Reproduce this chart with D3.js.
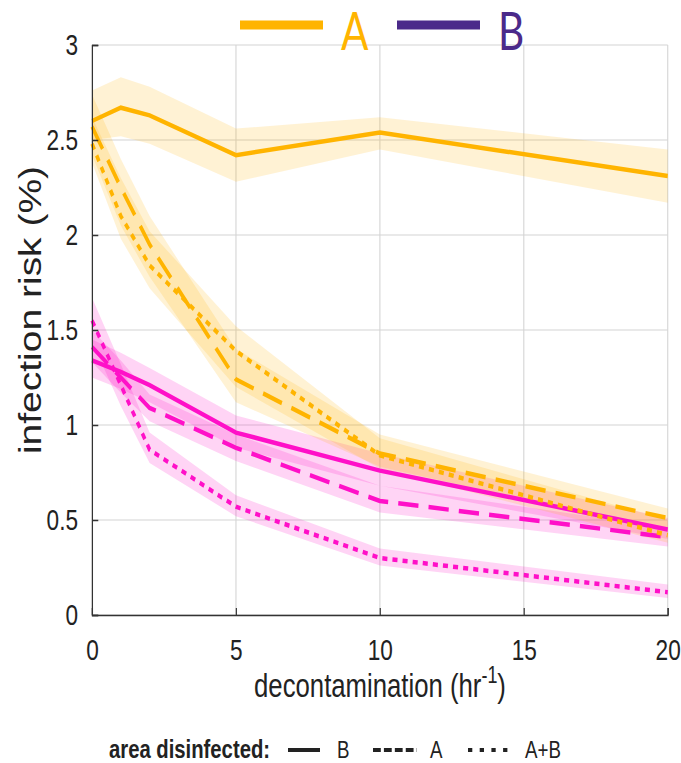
<!DOCTYPE html>
<html>
<head>
<meta charset="utf-8">
<script src="https://cdn.jsdelivr.net/npm/d3@7"></script>
<style>
  body { margin: 0; background: #fff; }
  svg { display: block; font-family: 'Liberation Sans', Arial, sans-serif; }
</style>
</head>
<body>
<div id="chart"></div>
<script>
// decontamination rates the model was run at
const rates = [0, 1, 2, 5, 10, 20];

// room A, mean and band (lo/hi) for each disinfected area
const aB = [2.60, 2.67, 2.63, 2.42, 2.54, 2.31];
const aBLo = [2.50, 2.52, 2.48, 2.28, 2.45, 2.17];
const aBHi = [2.76, 2.83, 2.78, 2.56, 2.62, 2.45];
const aA = [2.57, 2.25, 1.95, 1.24, 0.85, 0.51];
const aALo = [2.42, 2.05, 1.78, 1.12, 0.78, 0.44];
const aAHi = [2.74, 2.40, 2.10, 1.40, 0.95, 0.56];
const aAB = [2.48, 2.10, 1.84, 1.39, 0.84, 0.42];
const aABLo = [2.38, 1.98, 1.72, 1.20, 0.77, 0.38];
const aABHi = [2.62, 2.30, 2.02, 1.52, 0.93, 0.50];

// room B
const bB = [1.34, 1.28, 1.21, 0.96, 0.76, 0.45];
const bBLo = [1.25, 1.19, 1.12, 0.88, 0.68, 0.40];
const bBHi = [1.45, 1.38, 1.30, 1.05, 0.85, 0.51];
const bA = [1.41, 1.25, 1.09, 0.88, 0.60, 0.41];
const bALo = [1.33, 1.17, 1.02, 0.81, 0.54, 0.36];
const bAHi = [1.50, 1.34, 1.16, 0.95, 0.68, 0.46];
const bAB = [1.55, 1.21, 0.87, 0.57, 0.30, 0.12];
const bABLo = [1.44, 1.10, 0.80, 0.52, 0.26, 0.09];
const bABHi = [1.67, 1.32, 0.96, 0.63, 0.35, 0.16];

const xTicks = [0, 5, 10, 15, 20];
const yTicks = [0, 0.5, 1, 1.5, 2, 2.5, 3];

const orange = '#ffb400';
const magenta = '#ff10c8';
const purple = '#4b2a8a';

const width = 681, height = 763;
// the original figure is squeezed sideways, so draw wide and squash
const squeeze = 0.78;
const vWidth = width / squeeze;
const margin = { top: 45, right: 17, bottom: 148, left: 118 };

let svg = d3.select('#chart').append('svg')
    .attr('width', width)
    .attr('height', height);
let g = svg.append('g').attr('transform', `scale(${squeeze},1)`);

const x = d3.scaleLinear().domain([0, 20]).range([margin.left, vWidth - margin.right]);
const y = d3.scaleLinear().domain([0, 3]).range([height - margin.bottom, margin.top]);

// grid
g.append('g').selectAll('line').data(xTicks).join('line')
    .attr('x1', d => x(d)).attr('x2', d => x(d))
    .attr('y1', y(0)).attr('y2', y(3))
    .attr('stroke', '#d4d4d4').attr('stroke-width', 1.4);
g.append('g').selectAll('line').data(yTicks).join('line')
    .attr('x1', x(0)).attr('x2', x(20))
    .attr('y1', d => y(d)).attr('y2', d => y(d))
    .attr('stroke', '#d4d4d4').attr('stroke-width', 1.2);

const series = [
    { mid: bB, lo: bBLo, hi: bBHi, color: magenta, dash: null },
    { mid: bA, lo: bALo, hi: bAHi, color: magenta, dash: '26,13' },
    { mid: bAB, lo: bABLo, hi: bABHi, color: magenta, dash: '6.5,6.5' },
    { mid: aB, lo: aBLo, hi: aBHi, color: orange, dash: null },
    { mid: aA, lo: aALo, hi: aAHi, color: orange, dash: '26,13' },
    { mid: aAB, lo: aABLo, hi: aABHi, color: orange, dash: '6.5,6.5' }
];

const band = d3.area()
    .x((d, i) => x(rates[i]))
    .y0(d => y(d[0]))
    .y1(d => y(d[1]));
const line = d3.line()
    .x((d, i) => x(rates[i]))
    .y(d => y(d));

let bandGroup = g.append('g');
let lineGroup = g.append('g');

series.forEach(s => {
    bandGroup.append('path')
        .attr('d', band(s.lo.map((v, i) => [v, s.hi[i]])))
        .attr('fill', s.color)
        .attr('fill-opacity', s.color === orange ? 0.17 : 0.18);
});
series.forEach(s => {
    lineGroup.append('path')
        .attr('d', line(s.mid))
        .attr('fill', 'none')
        .attr('stroke', s.color)
        .attr('stroke-width', 4.5)
        .attr('stroke-dasharray', s.dash);
});

// axes
let xAxis = g.append('g')
    .attr('transform', `translate(0,${y(0)})`)
    .call(d3.axisBottom(x).tickValues(xTicks).tickSize(-7).tickPadding(24));
let yAxis = g.append('g')
    .attr('transform', `translate(${x(0)},0)`)
    .call(d3.axisLeft(y).tickValues(yTicks).tickSize(-8).tickPadding(18).tickFormat(d3.format('')));
[xAxis, yAxis].forEach(ax => {
    ax.select('.domain').attr('stroke', '#333').attr('stroke-width', 1.5);
    ax.selectAll('.tick line').attr('stroke', '#333').attr('stroke-width', 1.5);
    ax.selectAll('text').attr('font-size', 29).attr('fill', '#222')
        .attr('font-family', "'Liberation Sans', Arial, sans-serif");
});

// axis titles
let xTitle = g.append('text')
    .attr('x', 380 / squeeze).attr('y', 697)
    .attr('text-anchor', 'middle')
    .attr('font-size', 33).attr('fill', '#222');
xTitle.append('tspan').text('decontamination (hr');
xTitle.append('tspan').attr('dy', -14).attr('font-size', 23).text('-1');
xTitle.append('tspan').attr('dy', 14).text(')');

g.append('text')
    .attr('transform', `translate(${41 / squeeze},${y(1.5) - 20}) rotate(-90)`)
    .attr('text-anchor', 'middle')
    .attr('font-size', 39).attr('fill', '#222')
    .text('infection risk (%)');

// top legend
const topLegend = [
    { label: 'A', color: orange, x0: 240 },
    { label: 'B', color: purple, x0: 397 }
];
topLegend.forEach(d => {
    g.append('line')
        .attr('x1', d.x0 / squeeze).attr('x2', (d.x0 + 83) / squeeze)
        .attr('y1', 25).attr('y2', 25)
        .attr('stroke', d.color).attr('stroke-width', 9);
    g.append('text')
        .attr('x', (d.x0 + 101) / squeeze).attr('y', 50)
        .attr('font-size', 52).attr('fill', d.color)
        .attr('font-family', 'Lato, "Open Sans", sans-serif')
        .text(d.label);
});

// bottom legend
g.append('text')
    .attr('x', 109 / squeeze).attr('y', 758)
    .attr('font-size', 26).attr('fill', '#222').attr('font-weight', 'bold')
    .text('area disinfected:');
const botLegend = [
    { label: 'B', dash: null, x0: 288, x1: 320, tx: 337 },
    { label: 'A', dash: '10,4', x0: 373, x1: 417, tx: 430 },
    { label: 'A+B', dash: '5.5,9.5', x0: 468, x1: 510, tx: 525 }
];
botLegend.forEach(d => {
    g.append('line')
        .attr('x1', d.x0 / squeeze).attr('x2', d.x1 / squeeze)
        .attr('y1', 750).attr('y2', 750)
        .attr('stroke', '#222').attr('stroke-width', 4)
        .attr('stroke-dasharray', d.dash);
    g.append('text')
        .attr('x', d.tx / squeeze).attr('y', 758)
        .attr('font-size', 24).attr('fill', '#222')
        .text(d.label);
});
</script>
</body>
</html>
